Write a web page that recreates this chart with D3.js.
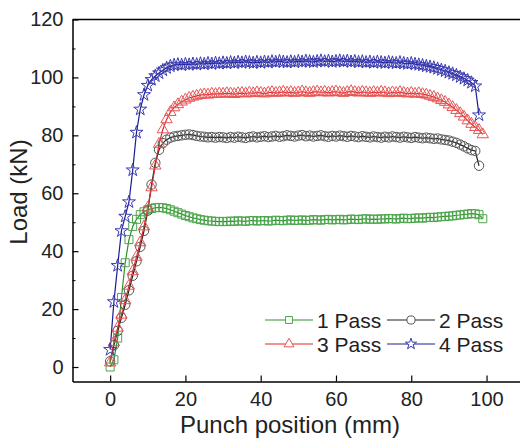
<!DOCTYPE html>
<html lang="en">
<head>
  <meta charset="UTF-8">
  <title>Load vs punch position</title>
  <script src="https://cdn.jsdelivr.net/npm/d3@7"></script>
  <style>
    body { margin: 0; background: #fff; }
    svg { display: block; font-family: "Liberation Sans", Arial, sans-serif; }
  </style>
</head>
<body>
<div id="chart"></div>
<script>
  // punch position (mm), one sample per mm
  const position = [0,1,2,3,4,5,6,7,8,9,10,11,12,13,14,15,16,17,18,19,20,21,22,23,24,25,26,27,28,29,
    30,31,32,33,34,35,36,37,38,39,40,41,42,43,44,45,46,47,48,49,50,51,52,53,54,55,56,57,58,59,
    60,61,62,63,64,65,66,67,68,69,70,71,72,73,74,75,76,77,78,79,80,81,82,83,84,85,86,87,88,89,
    90,91,92,93,94,95,96,97,98,99];

  // load (kN) for each pass
  const pass1 = [0,2.5,10,24,36,44,48.5,51,52.6,53.6,54.3,54.7,55,55.1,55,54.7,54.3,53.8,53.3,52.8,
    52.3,51.9,51.5,51.2,50.9,50.7,50.5,50.4,50.3,50.2,50.3,50.2,50.4,50.3,50.5,50.4,50.3,50.5,50.6,50.4,
    50.5,50.6,50.4,50.5,50.7,50.6,50.5,50.7,50.8,50.6,50.7,50.8,50.6,50.7,50.9,50.8,50.7,50.9,51.0,50.8,
    50.9,51.0,50.8,50.9,51.1,51.0,50.9,51.1,51.2,51.0,51.1,51.0,51.2,51.1,51.3,51.2,51.1,51.3,51.4,51.2,
    51.3,51.4,51.5,51.4,51.6,51.7,51.6,51.8,51.9,52.0,52.1,52.2,52.4,52.5,52.7,52.8,53.0,52.9,52.6,51.2];

  const pass2 = [2,7.5,12.5,17,21.5,26.5,31.5,36.5,41.5,47,54,63,70.5,75,77.3,78.5,79.2,79.6,79.8,80,
    80.2,80.3,80.1,79.8,79.6,79.5,79.3,79.4,79.2,79.4,79.3,79.1,79.4,79.2,79.5,79.3,79.1,79.4,79.6,79.3,
    79.5,79.7,79.4,79.6,79.8,79.5,79.7,80.0,79.8,79.6,79.9,80.1,79.7,79.9,79.6,79.8,80.0,79.7,79.5,79.8,
    79.6,79.9,79.7,79.5,79.8,79.6,79.4,79.7,79.5,79.3,79.6,79.4,79.2,79.5,79.3,79.6,79.4,79.2,79.5,79.3,
    79.1,79.4,79.2,79.0,79.2,79.0,78.8,78.9,78.6,78.4,78.2,77.8,77.4,76.8,76.2,75.5,74.9,74.6,69.5];

  const pass3 = [1.5,8.5,13.5,18,23,28,33,38,43,48.5,55,62,69.5,77,82,85.5,88,89.6,90.7,91.6,
    92.3,92.9,93.3,93.6,93.9,94.1,94.0,94.3,94.2,94.4,94.3,94.5,94.4,94.2,94.5,94.6,94.4,94.7,94.5,94.8,
    94.6,94.4,94.7,94.9,94.6,94.8,95.0,94.7,94.9,94.6,94.8,95.1,94.8,94.6,94.9,95.1,94.8,95.0,94.7,94.9,
    95.1,94.8,94.6,94.9,95.2,94.9,94.7,95.0,94.8,94.6,94.9,94.7,95.0,94.8,94.5,94.8,94.6,94.9,94.6,94.4,
    94.6,94.3,94.5,94.2,94.0,93.6,93.2,92.7,92.1,91.5,90.6,89.7,88.7,87.6,86.4,85.1,83.9,82.8,81.8,80.3];

  const pass4 = [6,22.5,35,47,52,57,68,81,89,94,97.2,99.2,100.5,101.5,102.5,103.3,103.9,104.3,104.5,104.3,
    104.6,104.4,104.7,104.5,104.8,104.6,104.9,104.7,105.0,104.8,105.1,104.9,105.2,105.0,105.3,105.1,105.4,105.2,105.0,105.3,
    105.1,105.4,105.2,105.5,105.3,105.6,105.4,105.2,105.5,105.3,105.6,105.4,105.7,105.5,105.3,105.6,105.8,105.5,105.7,105.4,
    105.6,105.8,105.5,105.7,105.4,105.6,105.3,105.5,105.2,105.4,105.1,105.4,105.2,105.0,105.3,105.1,104.9,105.2,104.9,104.7,
    104.9,104.6,104.4,104.2,103.9,103.7,103.4,103.0,102.6,102.2,101.7,101.3,100.8,100.2,99.6,99.0,98.2,97.0,87];

  const seriesNames = ["1 Pass", "2 Pass", "3 Pass", "4 Pass"];
  const xTicks = [0, 20, 40, 60, 80, 100];
  const yTicks = [0, 20, 40, 60, 80, 100, 120];

  const width = 520, height = 438;
  const margin = { top: 19.5, left: 72.5, bottom: 56.5 };

  const series = [
    { name: seriesNames[0], values: pass1, line: "#2f8f2f", mark: "#4ca64c", symbol: d3.symbolSquare, size: 64 },
    { name: seriesNames[1], values: pass2, line: "#222",    mark: "#555",    symbol: d3.symbolCircle, size: 70 },
    { name: seriesNames[2], values: pass3, line: "#e02a2a", mark: "#e85555", symbol: d3.symbolTriangle, size: 56 },
    { name: seriesNames[3], values: pass4, line: "#1c1c96", mark: "#3a3ab0", symbol: d3.symbolStar, size: 52 }
  ];

  const svg = d3.select("#chart").append("svg")
    .attr("width", width)
    .attr("height", height);

  // x axis runs past the right edge of the picture (cut off in the original)
  const x = d3.scaleLinear().domain([-10, 110]).range([margin.left, margin.left + 120 * 3.764]);
  const y = d3.scaleLinear().domain([-5, 120]).range([height - margin.bottom, margin.top]);

  const line = d3.line()
    .x((d, i) => x(position[i]))
    .y(d => y(d));

  // lines
  series.forEach(s => {
    svg.append("path")
      .datum(s.values)
      .attr("fill", "none")
      .attr("stroke", s.line)
      .attr("stroke-width", 1.2)
      .attr("d", line);
  });

  // markers
  series.forEach(s => {
    svg.append("g")
      .selectAll("path")
      .data(s.values)
      .join("path")
      .attr("transform", (d, i) => `translate(${x(position[i])},${y(d)})`)
      .attr("d", d3.symbol().type(s.symbol).size(s.size))
      .attr("fill", "none")
      .attr("stroke", s.mark)
      .attr("stroke-width", 1);
  });

  // axes
  const xAxis = svg.append("g")
    .attr("transform", `translate(0,${y(-5)})`)
    .call(d3.axisBottom(x).tickValues(xTicks).tickSize(-6).tickPadding(10).tickSizeOuter(0));

  const yAxis = svg.append("g")
    .attr("transform", `translate(${x(-10)},0)`)
    .call(d3.axisLeft(y).tickValues(yTicks).tickSize(-6).tickPadding(9).tickSizeOuter(0));

  // minor y ticks
  svg.append("g")
    .attr("transform", `translate(${x(-10)},0)`)
    .call(d3.axisLeft(y).tickValues([10, 30, 50, 70, 90, 110]).tickSize(-3).tickFormat("").tickSizeOuter(0))
    .select(".domain").remove();

  [xAxis, yAxis].forEach(g => {
    g.select(".domain").attr("stroke-width", 1.5);
    g.selectAll(".tick line").attr("stroke-width", 1.2);
    g.selectAll("text").style("font-size", "20px").attr("fill", "#222").style("font-family", "Liberation Sans, Arial, sans-serif");
  });

  // top frame line
  svg.append("line")
    .attr("x1", x(-10)).attr("x2", x(110))
    .attr("y1", y(120)).attr("y2", y(120))
    .attr("stroke", "#000").attr("stroke-width", 1.5);

  // axis titles
  svg.append("text")
    .attr("x", 290)
    .attr("y", 433)
    .attr("text-anchor", "middle")
    .style("font-size", "24px")
    .attr("fill", "#222")
    .text("Punch position (mm)");

  svg.append("text")
    .attr("transform", "translate(27,192) rotate(-90)")
    .attr("text-anchor", "middle")
    .style("font-size", "24px")
    .attr("fill", "#222")
    .text("Load (kN)");

  // legend, 2 x 2
  const legendPos = [[265, 320], [387, 320], [265, 344], [387, 344]];
  series.forEach((s, i) => {
    const [lx, ly] = legendPos[i];
    const g = svg.append("g").attr("transform", `translate(${lx},${ly})`);
    g.append("line")
      .attr("x1", 0).attr("x2", 48)
      .attr("y1", 0).attr("y2", 0)
      .attr("stroke", s.line).attr("stroke-width", 1.2);
    g.append("path")
      .attr("transform", "translate(24,0)")
      .attr("d", d3.symbol().type(s.symbol).size(s.size * 0.75))
      .attr("fill", "#fff")
      .attr("stroke", s.mark);
    g.append("text")
      .attr("x", 52)
      .attr("dy", "0.36em")
      .style("font-size", "21px")
      .attr("fill", "#222")
      .text(s.name);
  });
</script>
</body>
</html>
